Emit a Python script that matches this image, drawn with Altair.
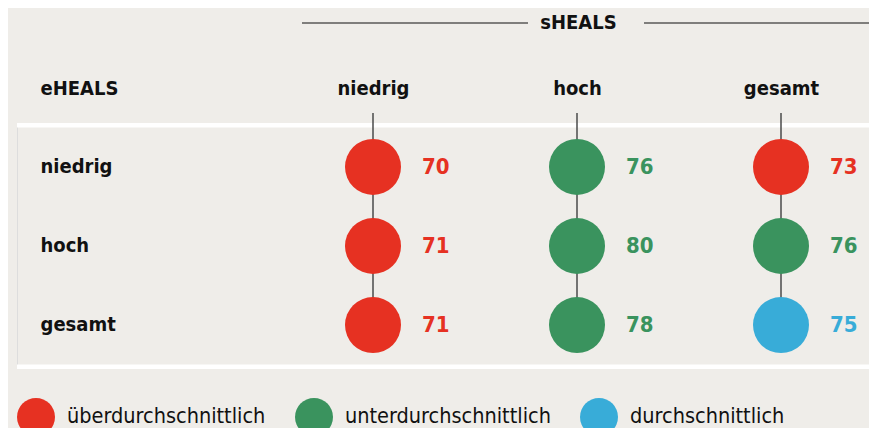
import altair as alt
import pandas as pd

# ---- data -------------------------------------------------------------
col_labels = ["niedrig", "hoch", "gesamt"]      # sHEALS
row_labels = ["niedrig", "hoch", "gesamt"]      # eHEALS
values = [
    [70, 76, 73],
    [71, 80, 76],
    [71, 78, 75],
]
categories = [
    ["überdurchschnittlich", "unterdurchschnittlich", "überdurchschnittlich"],
    ["überdurchschnittlich", "unterdurchschnittlich", "unterdurchschnittlich"],
    ["überdurchschnittlich", "unterdurchschnittlich", "durchschnittlich"],
]
legend_labels = ["überdurchschnittlich", "unterdurchschnittlich", "durchschnittlich"]
legend_colors = ["#e63122", "#3a935e", "#38acd8"]

records = []
for ri, r in enumerate(row_labels):
    for ci, c in enumerate(col_labels):
        records.append({"row": r, "col": c, "value": values[ri][ci], "cat": categories[ri][ci]})
df = pd.DataFrame(records)
conn_df = pd.DataFrame({"col": col_labels, "top": [row_labels[0]] * 3, "bot": [row_labels[-1]] * 3})
top_df = pd.DataFrame({"row": [row_labels[0]]})
bot_df = pd.DataFrame({"row": [row_labels[-1]]})
one_df = pd.DataFrame({"a": [0]})

FONT = "DejaVu Sans Condensed"
BG = "#efede9"

xscale = alt.Scale(type="point", domain=col_labels, range=[356, 764], padding=0)
yscale = alt.Scale(type="band", domain=row_labels, paddingInner=0, paddingOuter=0.03)
cscale = alt.Scale(domain=legend_labels, range=legend_colors)

x_axis = alt.Axis(orient="top", domain=False, ticks=False, tickSize=0, grid=False,
                  labelAngle=0, labelPadding=37, labelBaseline="middle", labelFontSize=20,
                  labelFontWeight="bold", labelColor="#111111", labelFont=FONT,
                  title="sHEALS", titleX=561, titleY=-103, titleAlign="center",
                  titleBaseline="middle", titleFontSize=20, titleFontWeight="bold",
                  titleColor="#111111", titleFont=FONT)
y_axis = alt.Axis(orient="left", domain=False, ticks=False, tickSize=0, grid=False,
                  labelPadding=-23, labelAlign="left", labelBaseline="middle",
                  labelFontSize=20, labelFontWeight="bold", labelColor="#111111",
                  labelFont=FONT,
                  title="eHEALS", titleAngle=0, titleX=23, titleY=-37, titleAlign="left",
                  titleBaseline="middle", titleFontSize=20, titleFontWeight="bold",
                  titleColor="#111111", titleFont=FONT)

white_top = alt.Chart(top_df).mark_rule(color="white", strokeWidth=4.5, yOffset=-2).encode(
    y=alt.Y("row:N", scale=yscale, bandPosition=0, axis=y_axis)
)
white_bot = alt.Chart(bot_df).mark_rule(color="white", strokeWidth=4.5, yOffset=2).encode(
    y=alt.Y("row:N", scale=yscale, bandPosition=1, axis=y_axis)
)

title_line_l = alt.Chart(one_df).mark_rule(color="#111111", strokeWidth=1.2).encode(
    x=alt.value(285), x2=alt.value(511), y=alt.value(-102)
)
title_line_r = alt.Chart(one_df).mark_rule(color="#111111", strokeWidth=1.2).encode(
    x=alt.value(627), x2=alt.value(870), y=alt.value(-102)
)

connectors = alt.Chart(conn_df).mark_rule(color="#4a4a4a", strokeWidth=1.5, yOffset=-54).encode(
    x=alt.X("col:N", scale=xscale, axis=x_axis),
    y=alt.Y("top:N", scale=yscale, axis=y_axis),
    y2="bot:N",
)

circles = alt.Chart(df).mark_circle(size=3136, opacity=1).encode(
    x=alt.X("col:N", scale=xscale, axis=x_axis),
    y=alt.Y("row:N", scale=yscale, axis=y_axis),
    color=alt.Color("cat:N", scale=cscale, legend=alt.Legend(
        orient="none", legendX=0, legendY=273, direction="horizontal", title=None,
        symbolSize=1444, symbolType="circle", symbolStrokeWidth=0, symbolOpacity=1,
        labelFontSize=21.5, labelFont=FONT, labelColor="#111111", labelOffset=12,
        columnPadding=29, padding=0, labelLimit=400,
    )),
)

labels = alt.Chart(df).mark_text(align="left", baseline="middle", dx=49, fontSize=22,
                                 fontWeight="bold", font=FONT).encode(
    x=alt.X("col:N", scale=xscale, axis=x_axis),
    y=alt.Y("row:N", scale=yscale, axis=y_axis),
    text=alt.Text("value:Q", format="d"),
    color=alt.Color("cat:N", scale=cscale, legend=None),
)

chart = alt.layer(
    white_top, white_bot, title_line_l, title_line_r, connectors, circles, labels
).properties(
    width=852, height=242,
    autosize=alt.AutoSizeParams(type="none"),
    padding={"left": 9, "top": 117, "right": 0, "bottom": 61},
    background=BG,
).configure_view(stroke=None).configure_axis(
    domain=False, ticks=False, grid=False
).configure(font=FONT)

chart.save("out.html", embed_options={"renderer": "svg", "actions": False})
